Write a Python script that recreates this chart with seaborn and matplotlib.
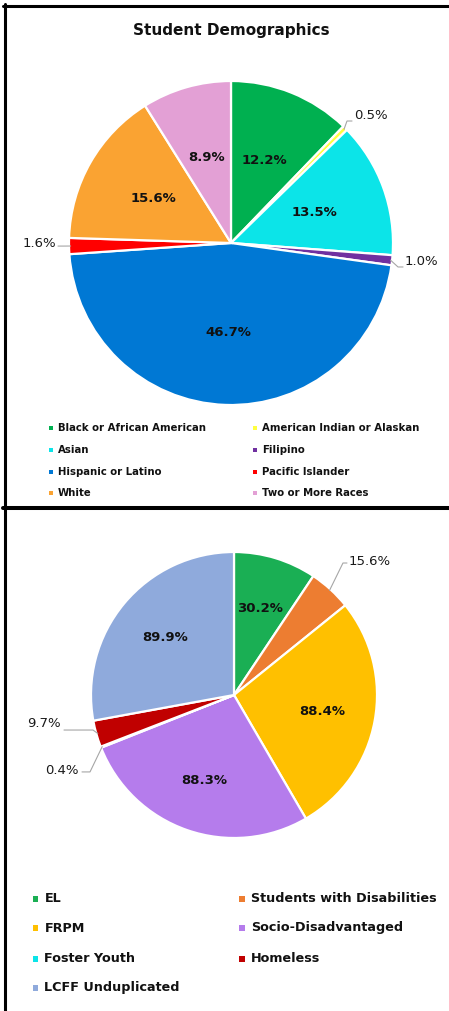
import numpy as np
import matplotlib
matplotlib.use("Agg")
import matplotlib.pyplot as plt
from matplotlib.patches import Rectangle
from matplotlib.lines import Line2D
import seaborn as sns

sns.set_theme(style="white")
plt.rcParams["font.family"] = ["DejaVu Sans"]

W, H, DPI = 449, 1011, 100

# ---- data -------------------------------------------------------------
demo_title = "Student Demographics"
demo_labels = ["Black or African American", "American Indian or Alaskan", "Asian",
               "Filipino", "Hispanic or Latino", "Pacific Islander", "White",
               "Two or More Races"]
demo_values = [12.2, 0.5, 13.5, 1.0, 46.7, 1.6, 15.6, 8.9]
demo_colors = ["#00B050", "#FFFF40", "#0CE4E8", "#7030A0", "#0078D4",
               "#FF0000", "#FAA332", "#E3A0D5"]

group_labels = ["EL", "Students with Disabilities", "FRPM", "Socio-Disadvantaged",
                "Foster Youth", "Homeless", "LCFF Unduplicated"]
group_values = [30.2, 15.6, 88.4, 88.3, 0.4, 9.7, 89.9]
group_colors = ["#1AAF54", "#ED7D31", "#FFC000", "#B57CEC", "#0CE4E8",
                "#C00000", "#8FAADC"]

fig = plt.figure(figsize=(W / DPI, H / DPI), dpi=DPI)
fig.patch.set_facecolor("white")


def fx(x):
    return x / W


def fy(y):
    return 1 - y / H


def pie_axes(cx, cy, r, top, bottom):
    ax = fig.add_axes([0, fy(bottom), 1, (bottom - top) / H])
    return ax, (-cx / r, (W - cx) / r), ((cy - bottom) / r, (cy - top) / r)


def draw_pie(ax, xlim, ylim, values, colors, inner_r, fs, outside):
    wedges, _ = ax.pie(values, colors=colors, startangle=90, counterclock=False,
                       radius=1.0,
                       wedgeprops=dict(edgecolor="white", linewidth=1.6))
    for i, (w, v) in enumerate(zip(wedges, values)):
        a = np.deg2rad((w.theta1 + w.theta2) / 2)
        txt = f"{v:.1f}%"
        if i in outside:
            (ex, ey), (lx, ly), (tx, ty), ha = outside[i]
            ax.plot([np.cos(a) * 0.99, ex, lx], [np.sin(a) * 0.99, ey, ly],
                    color="#A6A6A6", lw=0.8, clip_on=False)
            ax.text(tx, ty, txt, ha=ha, va="center", fontsize=fs,
                    color="#1a1a1a", clip_on=False)
        else:
            ax.text(np.cos(a) * inner_r, np.sin(a) * inner_r, txt, ha="center",
                    va="center", fontsize=fs, fontweight="bold", color="#111111")
    ax.set_xlim(*xlim)
    ax.set_ylim(*ylim)
    ax.set_aspect("auto")
    ax.axis("off")


# ---- top panel: demographics pie ------------------------------------
ax1, xl1, yl1 = pie_axes(231, 243, 162, 60, 420)
demo_outside = {
    1: ((0.716, 0.753), (0.747, 0.753), (0.76, 0.79), "left"),
    3: ((1.031, -0.148), (1.062, -0.148), (1.074, -0.117), "left"),
    5: ((-1.031, -0.019), (-1.068, -0.019), (-1.08, -0.006), "right"),
}
draw_pie(ax1, xl1, yl1, demo_values, demo_colors, 0.55, 9.5, demo_outside)
fig.text(fx(231), fy(30), demo_title, ha="center", va="center",
         fontsize=11, fontweight="bold", color="#111111")

# ---- bottom panel: student groups pie -------------------------------
ax2, xl2, yl2 = pie_axes(234, 695, 143, 530, 860)
group_outside = {
    1: ((0.762, 0.923), (0.790, 0.923), (0.804, 0.937), "left"),
    4: ((-1.007, -0.538), (-1.063, -0.538), (-1.084, -0.531), "right"),
    5: ((-0.986, -0.245), (-1.189, -0.245), (-1.21, -0.196), "right"),
}
draw_pie(ax2, xl2, yl2, group_values, group_colors, 0.63, 9.5, group_outside)


# ---- legends ----------------------------------------------------------
def legend(labels, colors, rows_y, cols_x, text_dx, msize, fs):
    for i, (lab, col) in enumerate(zip(labels, colors)):
        x = cols_x[i % 2]
        y = rows_y[i // 2]
        fig.patches.append(Rectangle((fx(x - msize / 2), fy(y + msize / 2)),
                                     msize / W, msize / H, facecolor=col,
                                     edgecolor="none", transform=fig.transFigure))
        fig.text(fx(x + text_dx), fy(y), lab, ha="left", va="center",
                 fontsize=fs, fontweight="bold", color="#111111")


legend(demo_labels, demo_colors, [428, 450, 472, 493], [51, 255], 7, 4.5, 7.3)
legend(group_labels, group_colors, [899, 928, 959, 988], [35.5, 242], 9, 5.5, 9.2)

# ---- panel frames -----------------------------------------------------
fig.add_artist(Line2D([fx(4.5), fx(4.5)], [fy(4), fy(H)], color="black",
                      lw=2.2, transform=fig.transFigure))
fig.add_artist(Line2D([fx(3), 1], [fy(6), fy(6)], color="black",
                      lw=2.2, transform=fig.transFigure))
fig.add_artist(Line2D([fx(3), 1], [fy(508), fy(508)], color="black",
                      lw=2.9, transform=fig.transFigure))

fig.savefig("out.png", dpi=DPI, facecolor="white")
